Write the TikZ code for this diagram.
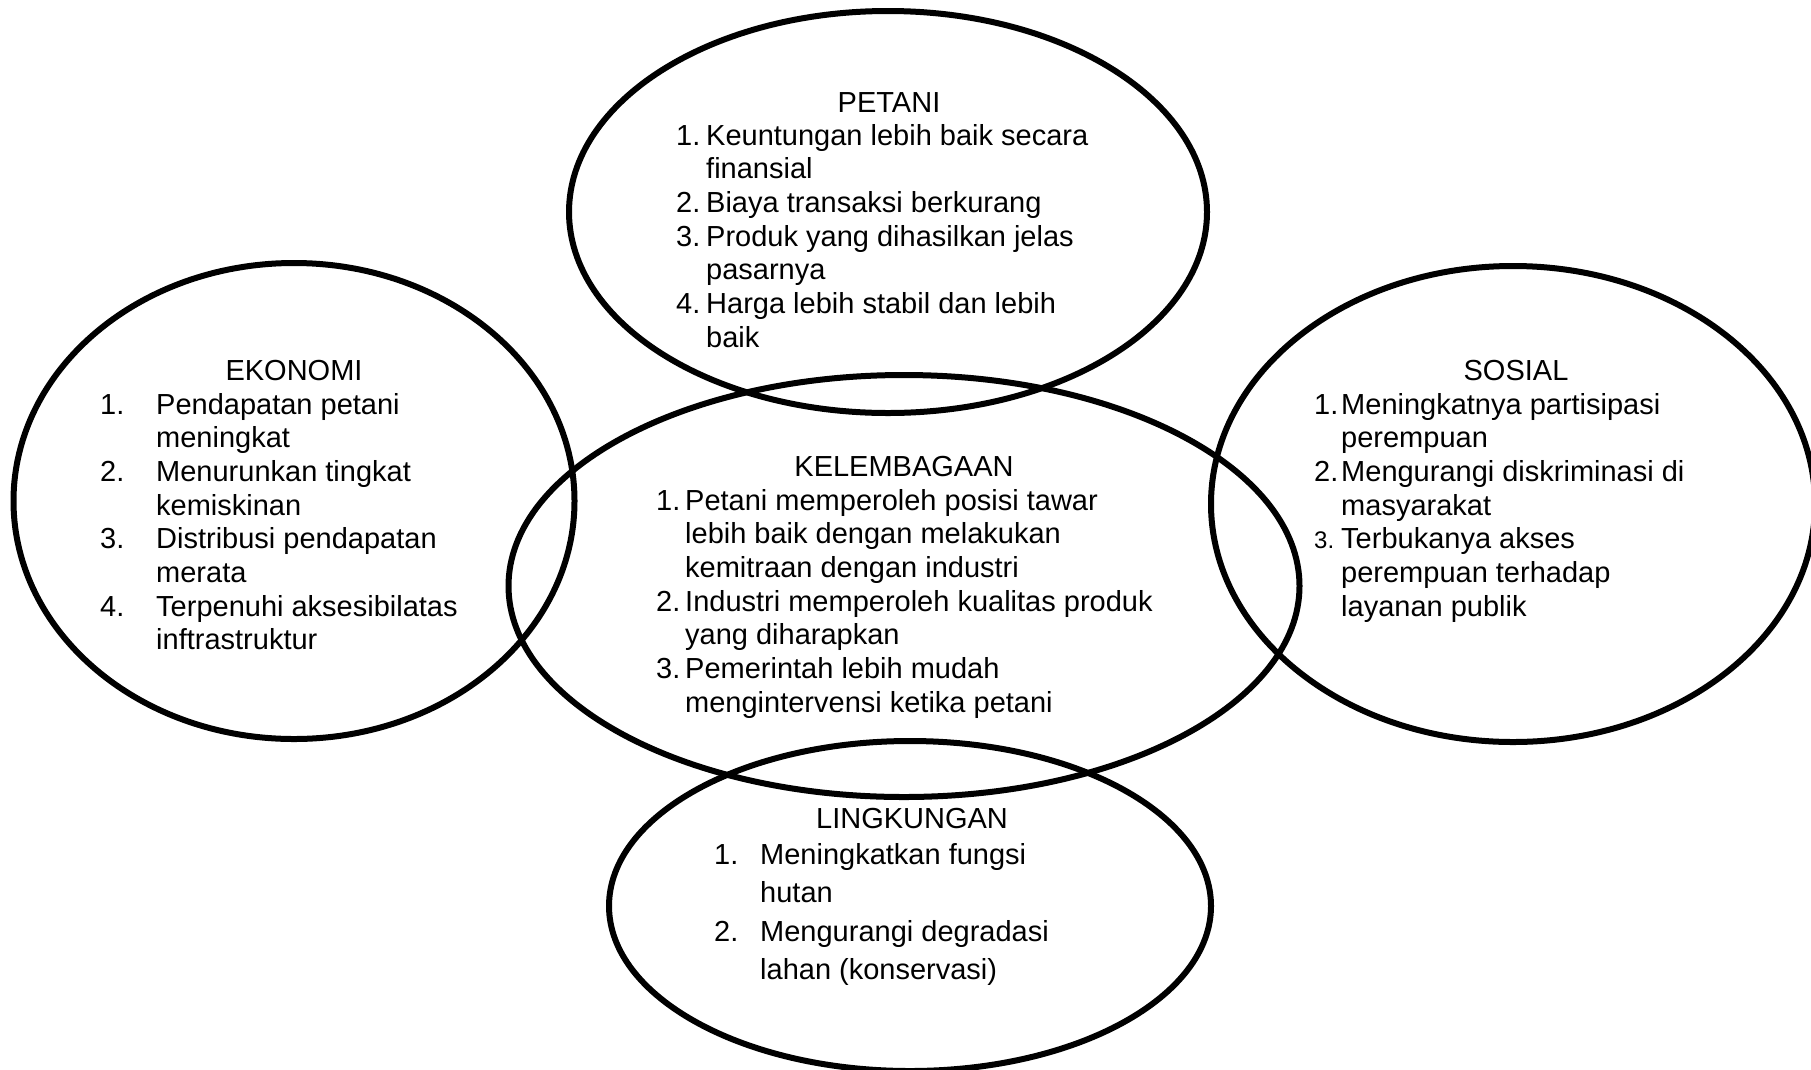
\documentclass[tikz,border=0pt]{standalone}
\usepackage{fontspec}
\setmainfont{Liberation Sans}
\usepackage{tikz}
\usetikzlibrary{shapes.geometric}

\tikzset{
  ring/.style={draw=black, line width=6pt, ellipse, inner sep=0pt},
  head/.style={anchor=base, inner sep=0pt, font=\fontsize{29}{33.7}\selectfont},
  items/.style={anchor=base west, inner sep=0pt, align=left, font=\fontsize{29}{33.7}\selectfont}
}

\begin{document}
\begin{tikzpicture}[x=1pt, y=-1pt]
        \fill[white] (0,0) rectangle (1811,1069);
        \useasboundingbox (0,0) rectangle (1811,1069);

        % the five rings
        \node[ring, minimum width=638pt, minimum height=402pt] (petani) at (888,212) {};
        \node[ring, minimum width=561pt, minimum height=476pt] (ekonomi) at (294,501) {};
        \node[ring, minimum width=791pt, minimum height=422pt] (lembaga) at (904,586) {};
        \node[ring, minimum width=604pt, minimum height=476pt] (sosial) at (1513,504) {};
        \node[ring, minimum width=602pt, minimum height=330pt] (lingkungan) at (910,906) {};

        % PETANI
        \node[head] (petani-t) at (889,112) {PETANI};
        \node[items] (petani-l) at (676,145) {%
          \begin{tabular}[t]{@{}p{30pt}@{}l@{}}
          1. & Keuntungan lebih baik secara\\
             & finansial\\
          2. & Biaya transaksi berkurang\\
          3. & Produk yang dihasilkan jelas\\
             & pasarnya\\
          4. & Harga lebih stabil dan lebih\\
             & baik
          \end{tabular}};

        % EKONOMI
        \node[head] (ekonomi-t) at (294,380) {EKONOMI};
        \node[items] (ekonomi-l) at (100,414) {%
          \begin{tabular}[t]{@{}p{56pt}@{}l@{}}
          1. & Pendapatan petani\\
             & meningkat\\
          2. & Menurunkan tingkat\\
             & kemiskinan\\
          3. & Distribusi pendapatan\\
             & merata\\
          4. & Terpenuhi aksesibilatas\\
             & inftrastruktur
          \end{tabular}};

        % KELEMBAGAAN
        \node[head] (lembaga-t) at (904,476) {KELEMBAGAAN};
        \node[items] (lembaga-l) at (656,510) {%
          \begin{tabular}[t]{@{}p{29pt}@{}l@{}}
          1. & Petani memperoleh posisi tawar\\
             & lebih baik dengan melakukan\\
             & kemitraan dengan industri\\
          2. & Industri memperoleh kualitas produk\\
             & yang diharapkan\\
          3. & Pemerintah lebih mudah\\
             & mengintervensi ketika petani
          \end{tabular}};

        % SOSIAL
        \node[head] (sosial-t) at (1516,380) {SOSIAL};
        \node[items] (sosial-l) at (1314,414) {%
          \begin{tabular}[t]{@{}p{27pt}@{}l@{}}
          1. & Meningkatnya partisipasi\\
             & perempuan\\
          2. & Mengurangi diskriminasi di\\
             & masyarakat\\
          {\fontsize{24}{33.7}\selectfont 3.} & Terbukanya akses\\
             & perempuan terhadap\\
             & layanan publik
          \end{tabular}};

        % LINGKUNGAN
        \node[head] (lingkungan-t) at (912,828) {LINGKUNGAN};
        \node[items, font=\fontsize{29}{38.5}\selectfont] (lingkungan-l) at (714,864) {%
          \begin{tabular}[t]{@{}p{46pt}@{}l@{}}
          1. & Meningkatkan fungsi\\
             & hutan\\
          2. & Mengurangi degradasi\\
             & lahan (konservasi)
          \end{tabular}};
      \end{tikzpicture}
\end{document}
